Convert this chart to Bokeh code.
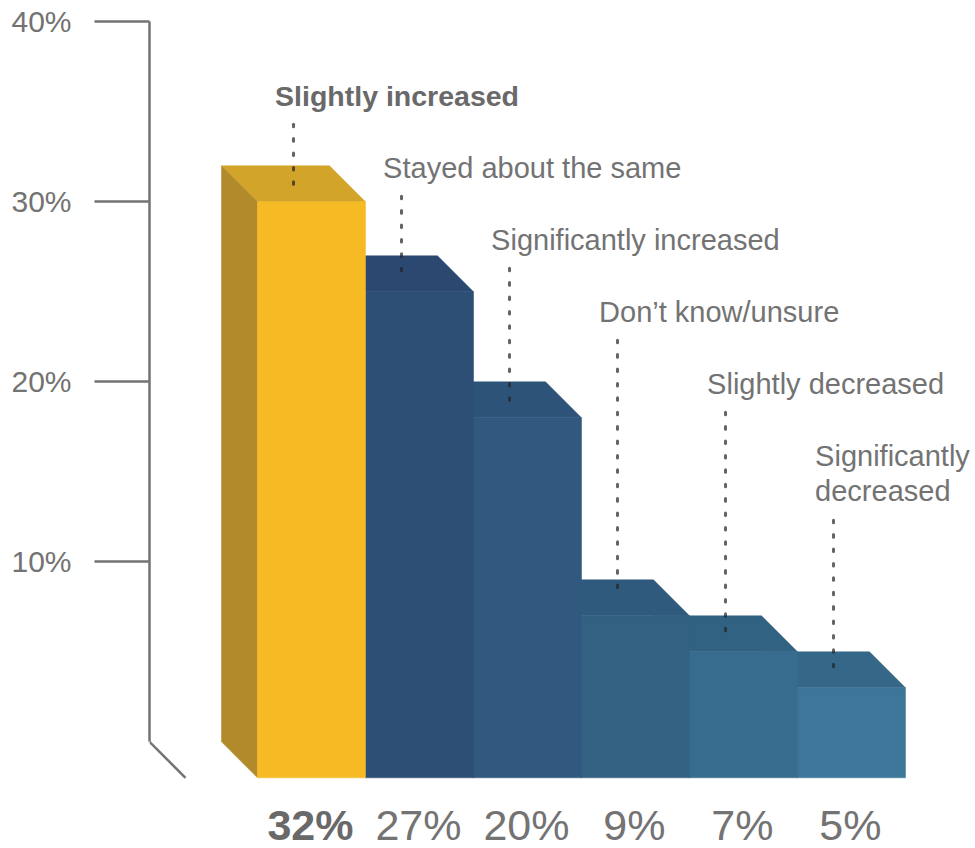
from bokeh.plotting import figure
from bokeh.models import Range1d, FixedTicker, ColumnDataSource
from bokeh.core.properties import value
from bokeh.embed import file_html
from bokeh.resources import INLINE

# ---- data ----
categories = ["Slightly increased", "Stayed about the same", "Significantly increased",
              "Don\u2019t know/unsure", "Slightly decreased", "Significantly\ndecreased"]
values = [32, 27, 20, 9, 7, 5]
value_labels = ["32%", "27%", "20%", "9%", "7%", "5%"]
axis_ticks = [10, 20, 30, 40]
axis_labels = {10: "10%", 20: "20%", 30: "30%", 40: "40%"}

# ---- styles ----
front_colors = ["#F6BA25", "#2D4F76", "#31587E", "#336182", "#386C8E", "#3E7699"]
top_colors = ["#D3A42A", "#2A4870", "#2E5378", "#2F5A7E", "#326282", "#356888"]
side_color = "#B18A2C"
text_color = "#737373"
bold_color = "#696969"
axis_color = "#737373"
FONT = "Liberation Sans"

# ---- geometry: 1 x-unit = one bar = 108 px, 1 y-unit = 1 % = 18 px ----
BAR_PX, PCT_PX = 108.0, 18.0
W, H = 975, 848
LEFT = 149
ZERO_PX = 741.3
depth_x = 1 / 3     # depth of the box, in bar widths
depth_y = 2         # depth of the box, in percent points

p = figure(width=W, height=H, output_backend="svg", toolbar_location=None,
           x_axis_location=None, y_axis_location="left",
           x_range=Range1d(-1, -1 + (W - LEFT) / BAR_PX),
           y_range=Range1d((ZERO_PX - H) / PCT_PX, ZERO_PX / PCT_PX),
           min_border_left=LEFT, min_border_right=0, min_border_top=0, min_border_bottom=0,
           outline_line_color=None, background_fill_color="white", border_fill_color="white")
p.grid.visible = False

# axis
ax = p.yaxis[0]
ax.ticker = FixedTicker(ticks=axis_ticks)
ax.major_label_overrides = axis_labels
ax.bounds = (0, 40)
ax.axis_line_color = axis_color
ax.axis_line_width = 2.5
ax.major_tick_line_color = axis_color
ax.major_tick_line_width = 2.5
ax.major_tick_in = 0
ax.major_tick_out = 55
ax.minor_tick_line_color = None
ax.major_label_standoff = 23
ax.major_label_text_font = FONT
ax.major_label_text_font_size = "30px"
ax.major_label_text_color = text_color
# floor stroke continuing the axis
p.line([-1, -1 + depth_x], [0, -depth_y], line_color=axis_color, line_width=2.5)

# bars, drawn right to left so that each front hides its neighbour's back part
for i in reversed(range(len(values))):
    v = values[i]
    front_top = v - depth_y
    side = side_color if i == 0 else front_colors[i]
    p.patch([i - depth_x, i + 1 - depth_x, i + 1, i], [v, v, front_top, front_top],
            fill_color=top_colors[i], line_color=top_colors[i], line_width=0.5)
    p.patch([i - depth_x, i, i, i - depth_x], [v, front_top, -depth_y, 0],
            fill_color=side, line_color=side, line_width=0.5)
    p.patch([i, i + 1, i + 1, i], [-depth_y, -depth_y, front_top, front_top],
            fill_color=front_colors[i], line_color=front_colors[i], line_width=0.5)

# leader dots and category labels
label_y = [35.86, 31.86, 27.86, 23.86, 19.86, 14.9]
leader_top = [34.24, 30.24, 26.24, 22.24, 18.24, 12.24]
dot_counts = [5, 6, 10, 18, 16, 11]
DOT_STEP = 0.8      # 14.4 px between dots
DOT_HALF = 0.07
x0, y0, y1 = [], [], []
for i in range(len(values)):
    for k in range(dot_counts[i]):
        c = leader_top[i] - k * DOT_STEP
        x0.append(i + 1 / 3)
        y0.append(c + DOT_HALF)
        y1.append(c - DOT_HALF)
p.segment(x0, y0, x0, y1, line_color="#222222", line_alpha=0.7, line_width=3, line_cap="round")

src = ColumnDataSource(dict(x=[i + 0.163 for i in range(1, 6)], y=label_y[1:], t=categories[1:]))
p.text("x", "y", "t", source=src, text_font=value(FONT), text_font_size="29px",
       text_color=text_color, text_align="left", text_baseline="middle", text_line_height=1.1)
p.text([0.163], [label_y[0]], text=[categories[0]], text_font=value(FONT), text_font_size="28.5px",
       text_font_style="bold", text_color=bold_color, text_align="left", text_baseline="middle")

# value labels under the bars
src2 = ColumnDataSource(dict(x=[i + 0.49 for i in range(1, 6)], y=[-4.63] * 5, t=value_labels[1:]))
p.text("x", "y", "t", source=src2, text_font=value(FONT), text_font_size="43px",
       text_color=text_color, text_align="center", text_baseline="middle")
p.text([0.49], [-4.63], text=[value_labels[0]], text_font=value(FONT), text_font_size="43px",
       text_font_style="bold", text_color=bold_color, text_align="center", text_baseline="middle")

open("out.html", "w").write(file_html(p, INLINE))
